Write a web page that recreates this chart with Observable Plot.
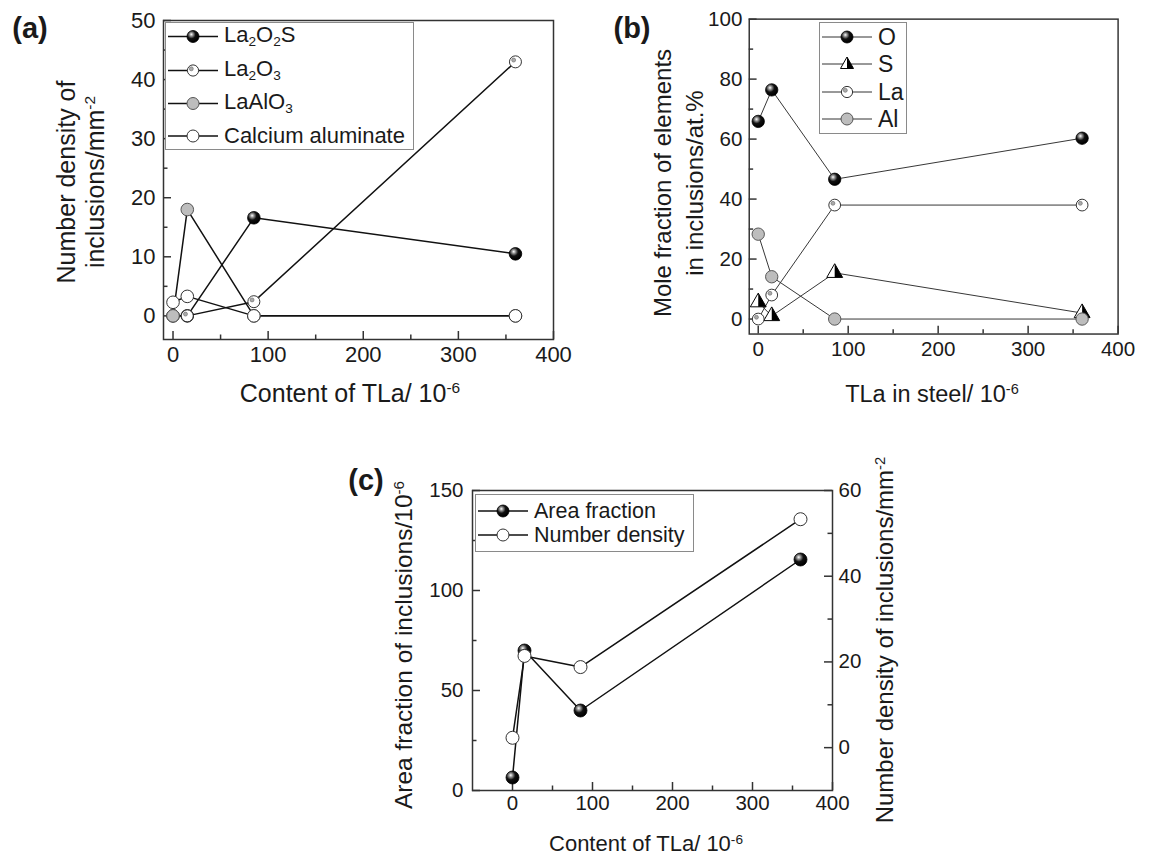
<!DOCTYPE html>
<html>
<head>
<meta charset="utf-8">
<script src="https://cdn.jsdelivr.net/npm/d3@7"></script>
<script src="https://cdn.jsdelivr.net/npm/@observablehq/plot@0.6"></script>
<style>
  html, body { margin: 0; padding: 0; background: #fff; }
  body { width: 1149px; height: 857px; position: relative; overflow: hidden;
         font-family: "Liberation Sans", Arial, sans-serif; color: #1a1a1a; }
  .lbl { position: absolute; font-size: 22px; white-space: nowrap; text-align: center; }
  .sup { position: relative; top: -0.55em; font-size: 0.62em; }
  .sub { position: relative; top: 0.32em; font-size: 0.62em; }
  .tag { position: absolute; font-size: 29px; font-weight: bold; transform: translate(-50%, -50%); }
  .legend { position: absolute; border: 1.5px solid #8a8a8a; box-sizing: border-box; background: #fff; }
  .lrow { position: absolute; left: 2px; display: flex; align-items: center; font-size: 22px; line-height: 20px; white-space: nowrap; transform: translateY(-50%); }
  .lrow svg { margin-right: 6px; flex: none; }
</style>
</head>
<body>
<svg width="0" height="0" style="position:absolute">
  <defs>
    <radialGradient id="sph" cx="38%" cy="35%" r="62%" fx="36%" fy="32%">
      <stop offset="0%" stop-color="#ffffff"/>
      <stop offset="22%" stop-color="#9a9a9a"/>
      <stop offset="55%" stop-color="#111"/>
      <stop offset="100%" stop-color="#000"/>
    </radialGradient>
  </defs>
</svg>
<script>
// ---------------- DATA ----------------
const tla = [0, 15, 85, 360];               // TLa content, 10^-6

// (a) number density of inclusions / mm^-2
const seriesA = ["La2O2S", "La2O3", "LaAlO3", "Calcium aluminate"];
const aLa2O2S = [0, 0, 16.6, 10.5];
const aLa2O3  = [0, 0, 2.4, 43.0];
const aLaAlO3 = [0, 18.0, 0, 0];
const aCaAl   = [2.3, 3.3, 0, 0];

// (b) mole fraction of elements in inclusions / at.%
const seriesB = ["O", "S", "La", "Al"];
const bO  = [65.9, 76.4, 46.6, 60.3];
const bS  = [5.6, 1.0, 15.4, 2.0];
const bLa = [0, 8.0, 38.0, 38.0];
const bAl = [28.3, 14.1, 0, 0];

// (c) area fraction (left axis) and number density (right axis)
const cArea    = [6.5, 70.0, 40.0, 115.5];
const cDensity = [2.3, 21.4, 18.8, 53.3];

// tick values
const xMajor = [0, 100, 200, 300, 400];
const xMinor = [50, 150, 250, 350];
const aYMajor = [0, 10, 20, 30, 40, 50];
const aYMinor = [5, 15, 25, 35, 45];
const bYMajor = [0, 20, 40, 60, 80, 100];
const bYMinor = [10, 30, 50, 70, 90];
const cYMajor = [0, 50, 100, 150];
const cYMinor = [25, 75, 125];
const cRMajor = [0, 20, 40, 60];
const cRMinor = [10, 30, 50];

// ---------------- HELPERS ----------------
const FONT = '"Liberation Sans", Arial, sans-serif';
const FRAME = "#333";

function rows(names, arrays) {
  return names.flatMap((s, i) => tla.map((x, j) => ({s, x, y: arrays[i][j]})));
}

function ticks(innerW, innerH, xMaj, xMin, yMaj, yMin, side = "left", yf = d => d) {
  const yInset = side === "left" ? "insetRight" : "insetLeft";
  const m = [];
  if (xMaj) m.push(Plot.tickX(xMaj, {x: d => d, insetTop: innerH - 8, stroke: FRAME, strokeWidth: 1.5}));
  if (xMin) m.push(Plot.tickX(xMin, {x: d => d, insetTop: innerH - 4.5, stroke: FRAME, strokeWidth: 1.5}));
  m.push(Plot.tickY(yMaj, {y: yf, [yInset]: innerW - 8, stroke: FRAME, strokeWidth: 1.5}));
  m.push(Plot.tickY(yMin, {y: yf, [yInset]: innerW - 4.5, stroke: FRAME, strokeWidth: 1.5}));
  return m;
}

function panel({left, top, width, height, mt, mr, mb, ml, xd, yd, fs, marks}) {
  const p = Plot.plot({
    width, height, marginTop: mt, marginRight: mr, marginBottom: mb, marginLeft: ml,
    x: {domain: xd, axis: null},
    y: {domain: yd, axis: null},
    style: {fontFamily: FONT, fontSize: fs + "px", color: "#1a1a1a", background: "transparent", overflow: "visible"},
    marks
  });
  const d = document.createElement("div");
  d.style.cssText = `position:absolute;left:${left}px;top:${top}px;`;
  d.appendChild(p);
  document.body.appendChild(d);
}

function html(str, cx, cy, size, rotate = false, lineHeight = 26) {
  const d = document.createElement("div");
  d.className = "lbl";
  d.style.left = cx + "px";
  d.style.top = cy + "px";
  d.style.fontSize = size + "px";
  d.style.lineHeight = lineHeight + "px";
  d.style.transform = "translate(-50%,-50%)" + (rotate ? " rotate(-90deg)" : "");
  d.innerHTML = str;
  document.body.appendChild(d);
}
function tag(str, cx, cy) {
  const d = document.createElement("div");
  d.className = "tag"; d.style.left = cx + "px"; d.style.top = cy + "px";
  d.textContent = str; document.body.appendChild(d);
}

// legend glyphs
const G = {
  sphere: `<circle cx="25" cy="10" r="6" fill="url(#sph)" stroke="#000" stroke-width="0.8"/>`,
  dotted: `<circle cx="25" cy="10" r="5.6" fill="#fff" stroke="#333" stroke-width="1"/><circle cx="23.3" cy="8.3" r="2" fill="#aaa" stroke="#666" stroke-width="0.6"/>`,
  gray: `<circle cx="25" cy="10" r="6" fill="#bdbdbd" stroke="#555" stroke-width="1"/>`,
  open: `<circle cx="25" cy="10" r="6" fill="#fff" stroke="#333" stroke-width="1"/>`,
  tri: `<path d="M25,3L31.5,14.5L18.5,14.5Z" fill="#fff" stroke="#000" stroke-width="1"/><path d="M25,3L31.5,14.5L25,14.5Z" fill="#000"/>`
};
function legend(box, rowsDef, lineColor, lineW, size = 22) {
  const d = document.createElement("div");
  d.className = "legend";
  d.style.left = box[0] + "px"; d.style.top = box[1] + "px";
  d.style.width = box[2] + "px"; d.style.height = box[3] + "px";
  rowsDef.forEach(([glyph, text, y]) => {
    const r = document.createElement("div");
    r.className = "lrow";
    r.style.top = (y - box[1]) + "px";
    r.style.fontSize = size + "px";
    r.innerHTML = `<svg width="50" height="20"><line x1="0" y1="10" x2="50" y2="10" stroke="${lineColor}" stroke-width="${lineW}"/>${G[glyph]}</svg><span>${text}</span>`;
    d.appendChild(r);
  });
  document.body.appendChild(d);
}

// ---------------- PANEL (a) ----------------
{
  const data = rows(seriesA, [aLa2O2S, aLa2O3, aLaAlO3, aCaAl]);
  const of = s => data.filter(d => d.s === s);
  const W = 580, H = 420, ml = 163, mr = 27, mt = 20, mb = 81;
  panel({
    left: 0, top: 0, width: W, height: H, mt, mr, mb, ml, fs: 22,
    xd: [-10, 400], yd: [-4, 50],
    marks: [
      ...ticks(W - ml - mr, H - mt - mb, xMajor, xMinor, aYMajor, aYMinor),
      Plot.axisX(xMajor, {tickSize: 0, tickPadding: 7, label: null}),
      Plot.axisY(aYMajor, {anchor: "left", tickSize: 0, tickPadding: 8, label: null}),
      Plot.line(data, {x: "x", y: "y", z: "s", stroke: "#111", strokeWidth: 1.5}),
      Plot.dot(of("La2O2S"), {x: "x", y: "y", r: 6.3, fill: "url(#sph)", stroke: "#000", strokeWidth: 0.8}),
      Plot.dot(of("La2O3"), {x: "x", y: "y", r: 6, fill: "#fff", stroke: "#333", strokeWidth: 1}),
      Plot.dot(of("La2O3"), {x: "x", y: "y", r: 2, dx: -1.8, dy: -1.8, fill: "#aaa", stroke: "#666", strokeWidth: 0.6}),
      Plot.dot(of("LaAlO3"), {x: "x", y: "y", r: 6.3, fill: "#bdbdbd", stroke: "#555", strokeWidth: 1}),
      Plot.dot(of("Calcium aluminate"), {x: "x", y: "y", r: 6.3, fill: "#fff", stroke: "#333", strokeWidth: 1}),
      Plot.frame({stroke: FRAME, strokeWidth: 1.5})
    ]
  });
  legend([165, 22, 249, 128], [
    ["sphere", "La<span class='sub'>2</span>O<span class='sub'>2</span>S", 35],
    ["dotted", "La<span class='sub'>2</span>O<span class='sub'>3</span>", 69],
    ["gray", "LaAlO<span class='sub'>3</span>", 102],
    ["open", "Calcium aluminate", 135]
  ], "#111", 1.5, 22);
  html("Content of TLa/ 10<span class='sup'>-6</span>", 350, 395, 25);
  html("Number density of<br>inclusions/mm<span class='sup'>-2</span>", 82, 182, 25, true, 29);
  tag("(a)", 30, 28);
}

// ---------------- PANEL (b) ----------------
{
  const data = rows(seriesB, [bO, bS, bLa, bAl]);
  const of = s => data.filter(d => d.s === s);
  const halfTri = {
    draw(ctx, size) {
      const y = -Math.sqrt(size / (Math.sqrt(3) * 3));
      ctx.moveTo(0, 2 * y);
      ctx.lineTo(-Math.sqrt(3) * y, -y);
      ctx.lineTo(0, -y);
      ctx.closePath();
    }
  };
  const W = 580, H = 420, ml = 172, mr = 32, mt = 19, mb = 80;
  panel({
    left: 580, top: 0, width: W, height: H, mt, mr, mb, ml, fs: 21,
    xd: [-10, 400], yd: [-5, 100],
    marks: [
      ...ticks(W - ml - mr, H - mt - mb, xMajor, xMinor, bYMajor, bYMinor),
      Plot.axisX(xMajor, {tickSize: 0, tickPadding: 7, label: null}),
      Plot.axisY(bYMajor, {anchor: "left", tickSize: 0, tickPadding: 7, label: null}),
      Plot.line(data, {x: "x", y: "y", z: "s", stroke: "#333", strokeWidth: 1}),
      Plot.dot(of("O"), {x: "x", y: "y", r: 6.3, fill: "url(#sph)", stroke: "#000", strokeWidth: 0.8}),
      Plot.dot(of("S"), {x: "x", y: "y", r: 6, symbol: "triangle", fill: "#fff", stroke: "#000", strokeWidth: 1}),
      Plot.dot(of("S"), {x: "x", y: "y", r: 6, symbol: halfTri, fill: "#000", stroke: "none"}),
      Plot.dot(of("La"), {x: "x", y: "y", r: 6, fill: "#fff", stroke: "#333", strokeWidth: 1}),
      Plot.dot(of("La"), {x: "x", y: "y", r: 2, dx: -1.8, dy: -1.8, fill: "#aaa", stroke: "#666", strokeWidth: 0.6}),
      Plot.dot(of("Al"), {x: "x", y: "y", r: 6.3, fill: "#bdbdbd", stroke: "#555", strokeWidth: 1}),
      Plot.frame({stroke: FRAME, strokeWidth: 1.5})
    ]
  });
  legend([819, 22, 88, 112], [
    ["sphere", "O", 36],
    ["tri", "S", 63],
    ["dotted", "La", 91],
    ["gray", "Al", 118]
  ], "#333", 1, 23);
  html("TLa in steel/ 10<span class='sup'>-6</span>", 932, 395, 23.5);
  html("Mole fraction of elements<br>in inclusions/at.%", 679, 183, 24, true, 32);
  tag("(b)", 632, 28);
}

// ---------------- PANEL (c) ----------------
{
  const rLo = -10, rHi = 60, lLo = 0, lHi = 150;
  const toLeft = v => lLo + (v - rLo) * (lHi - lLo) / (rHi - rLo);
  const fromLeft = v => rLo + (v - lLo) * (rHi - rLo) / (lHi - lLo);
  const area = tla.map((x, j) => ({x, y: cArea[j]}));
  const dens = tla.map((x, j) => ({x, y: toLeft(cDensity[j])}));
  const W = 560, H = 397, ml = 142, mr = 58, mt = 30, mb = 67;
  const iw = W - ml - mr, ih = H - mt - mb;
  panel({
    left: 330, top: 460, width: W, height: H, mt, mr, mb, ml, fs: 20.5,
    xd: [-50, 400], yd: [lLo, lHi],
    marks: [
      ...ticks(iw, ih, xMajor, xMinor, cYMajor, cYMinor),
      ...ticks(iw, ih, null, null, cRMajor, cRMinor, "right", toLeft),
      Plot.axisX(xMajor, {tickSize: 0, tickPadding: 5, label: null}),
      Plot.axisY(cYMajor, {anchor: "left", tickSize: 0, tickPadding: 9, label: null}),
      Plot.axisY(cRMajor.map(toLeft), {anchor: "right", tickSize: 0, tickPadding: 6, label: null,
        tickFormat: v => String(Math.round(fromLeft(v)) + 0)}),
      Plot.line(area, {x: "x", y: "y", stroke: "#111", strokeWidth: 1.5}),
      Plot.line(dens, {x: "x", y: "y", stroke: "#111", strokeWidth: 1.5}),
      Plot.dot(area, {x: "x", y: "y", r: 6.5, fill: "url(#sph)", stroke: "#000", strokeWidth: 0.8}),
      Plot.dot(dens, {x: "x", y: "y", r: 6.5, fill: "#fff", stroke: "#333", strokeWidth: 1}),
      Plot.frame({stroke: FRAME, strokeWidth: 1.5})
    ]
  });
  legend([475, 494, 219, 58], [
    ["sphere", "Area fraction", 510],
    ["open", "Number density", 534]
  ], "#111", 1.5, 21.5);
  html("Content of TLa/ 10<span class='sup'>-6</span>", 646, 845, 22);
  html("Area fraction of inclusions/10<span class='sup'>-6</span>", 405, 645, 24.5, true);
  html("Number density of inclusions/mm<span class='sup'>-2</span>", 886, 640, 24, true);
  tag("(c)", 366, 480);
}
</script>
</body>
</html>
